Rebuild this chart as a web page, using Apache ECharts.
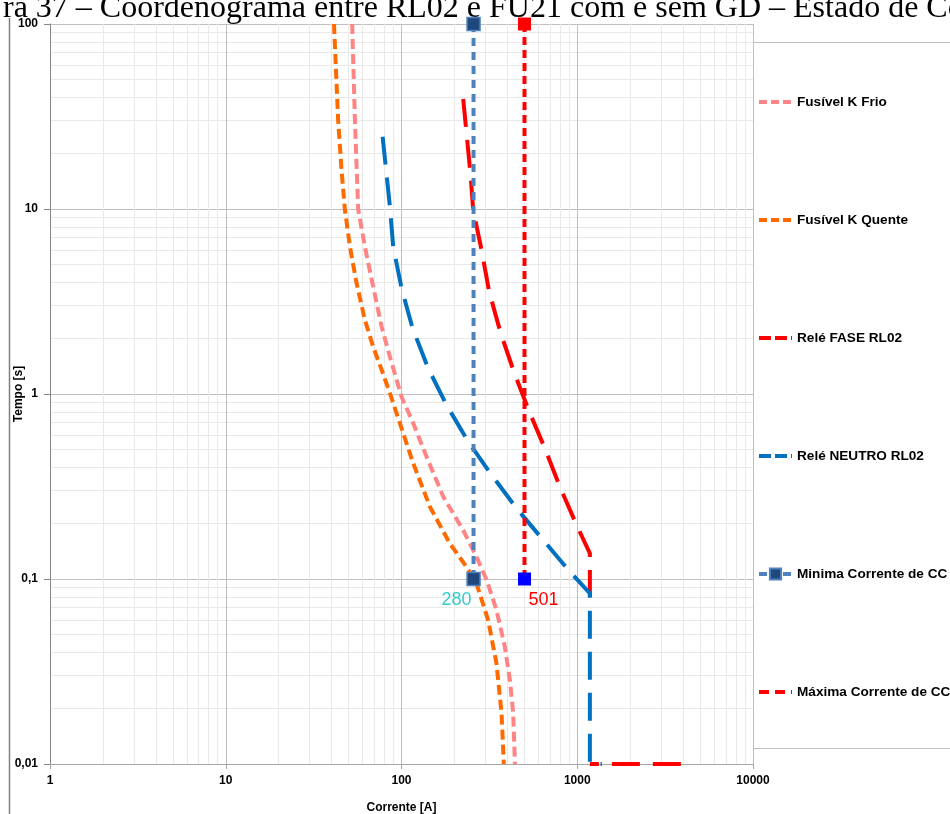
<!DOCTYPE html>
<html><head><meta charset="utf-8">
<script src="https://cdn.jsdelivr.net/npm/echarts@6/dist/echarts.min.js"></script>
<style>html,body{margin:0;padding:0;background:#fff}#c{width:950px;height:814px}</style>
</head><body><div id="c"></div>
<script>
// ---- data (current [A], time [s]) ----
const seriesNames = ['Fusível K Frio','Fusível K Quente','Relé FASE RL02','Relé NEUTRO RL02','Minima Corrente de CC','Máxima Corrente de CC'];
const fusivelFrio = [[52.4,100],[54.3,30.3],[56.7,9.96],[61.9,6.25],[69.0,3.80],[77.1,2.31],[85.9,1.59],[100,0.967],[116.6,0.695],[138.9,0.458],[172.7,0.279],[224,0.184],[267,0.132],[305,0.0988],[347,0.068],[387,0.0431],[414,0.0284],[432,0.0188],[442,0.01]];
const fusivelQuente = [[41.3,100],[43.6,30.3],[45.6,16.2],[47.6,9.96],[50.9,6.25],[55.5,3.98],[61.9,2.51],[69.0,1.80],[77.1,1.35],[85.9,1.01],[97.9,0.695],[116.6,0.422],[145,0.246],[188,0.156],[234,0.1165],[267,0.0948],[311,0.060],[347,0.035],[371,0.0188],[382,0.01]];
const releFase = [[224.4,39.3],[247.2,15.3],[255.8,9.88],[285.5,6.0],[315.4,3.57],[366.2,2.145],[435.9,1.32],[530.5,0.812],[654.1,0.509],[796,0.3155],[990.8,0.196],[1180,0.1377],[1180,0.080]];
const releFaseInst = [[1180,0.01],[4090,0.01]];
const releNeutro = [[78.1,24.6],[85.9,10.3],[89.7,6.25],[100.1,3.73],[115.6,2.27],[141.9,1.376],[180.5,0.872],[239.6,0.553],[325.5,0.365],[451.6,0.241],[639.7,0.1625],[907.7,0.1095],[1180,0.0837],[1180,0.01],[1380,0.01]];
const minCC = [[257,100],[257,0.1]];
const maxCC = [[501,100],[501,0.1]];
const ccLabels = ['280','501'];
const xRange = [1, 10000];
const yRange = [0.01, 100];

const chart = echarts.init(document.getElementById('c'), null, {renderer:'canvas'});
const axisFont = {fontFamily:'Liberation Sans, Arial', fontWeight:'bold', fontSize:12, color:'#000'};
const fmt = v => String(+(+v).toPrecision(6)).replace('.', ',');
const legendItem = (name, color, dash, hideSymbol) => ({
  name,
  itemStyle: hideSymbol ? {opacity:0} : undefined,
  lineStyle: {color, width:4, type:dash}
});
const option = {
  animation:false,
  backgroundColor:'#fff',
  grid:{left:50, right:197, top:24, bottom:50, containLabel:false, outerBoundsMode:'none'},
  xAxis:{type:'log', logBase:10, min:xRange[0], max:xRange[1],
    name:'Corrente [A]', nameLocation:'middle', nameGap:38, nameMoveOverlap:false,
    nameTextStyle:{fontFamily:'Liberation Sans, Arial', fontWeight:'bold', fontSize:12, color:'#000'},
    axisLine:{show:true, lineStyle:{color:'#A6A6A6', width:1}},
    axisTick:{show:true, length:5, lineStyle:{color:'#A6A6A6'}},
    axisLabel:Object.assign({margin:11, formatter:fmt}, axisFont),
    splitLine:{show:true, lineStyle:{color:'#BFBFBF', width:1}},
    minorTick:{show:false, splitNumber:9},
    minorSplitLine:{show:true, lineStyle:{color:'#E9E9E9', width:1}}
  },
  yAxis:{type:'log', logBase:10, min:yRange[0], max:yRange[1],
    name:'Tempo [s]', nameLocation:'middle', nameGap:25, nameRotate:90, nameMoveOverlap:false,
    nameTextStyle:{fontFamily:'Liberation Sans, Arial', fontWeight:'bold', fontSize:12, color:'#000'},
    axisLine:{show:true, lineStyle:{color:'#868686', width:1}},
    axisTick:{show:true, length:6, lineStyle:{color:'#868686'}},
    axisLabel:Object.assign({margin:12, formatter:fmt}, axisFont),
    splitLine:{show:true, lineStyle:{color:'#BFBFBF', width:1}},
    minorTick:{show:false, splitNumber:9},
    minorSplitLine:{show:true, lineStyle:{color:'#E9E9E9', width:1}}
  },
  legend:{orient:'vertical', left:757, top:95, padding:0, itemGap:104, itemWidth:33, itemHeight:14,
    data:[
      legendItem(seriesNames[0], '#FF8585', [8,4], true),
      legendItem(seriesNames[1], '#FF6A00', [8,4], true),
      legendItem(seriesNames[2], '#FF0000', [12,4], true),
      legendItem(seriesNames[3], '#0070C0', [12,4], true),
      legendItem(seriesNames[4], '#4F81BD', [8,4], false),
      legendItem(seriesNames[5], '#FF0000', [10,6], true)
    ],
    textStyle:{fontFamily:'Liberation Sans, Arial', fontWeight:'bold', fontSize:13.6, color:'#000'}},
  series:[
    {name:seriesNames[0], type:'line', data:fusivelFrio, symbol:'none',
     lineStyle:{color:'#FF8585', width:4, type:[10,5]}, itemStyle:{color:'#FF8585'}},
    {name:seriesNames[1], type:'line', data:fusivelQuente, symbol:'none',
     lineStyle:{color:'#FF6A00', width:4, type:[10,5]}, itemStyle:{color:'#FF6A00'}},
    {name:seriesNames[2], type:'line', data:releFase, symbol:'none',
     lineStyle:{color:'#FF0000', width:4, type:[28,13]}, itemStyle:{color:'#FF0000'}},
    {name:seriesNames[2], type:'line', data:releFaseInst, symbol:'none',
     lineStyle:{color:'#FF0000', width:4, type:[28,13], dashOffset:-22}, itemStyle:{color:'#FF0000'}},
    {name:seriesNames[3], type:'line', data:releNeutro, symbol:'none',
     lineStyle:{color:'#0070C0', width:4, type:[28,13]}, itemStyle:{color:'#0070C0'}},
    {name:seriesNames[4], type:'line', symbol:'rect', symbolSize:13,
     data:[{value:minCC[0]},{value:minCC[1], label:{show:true, formatter:ccLabels[0], position:'bottom', distance:5, offset:[-17,0], color:'#33CCCC', fontSize:18, fontFamily:'Liberation Sans, Arial'}}],
     lineStyle:{color:'#4F81BD', width:4, type:[8,6]},
     itemStyle:{color:'#1F497D', borderColor:'#4F81BD', borderWidth:1.5}},
    {name:seriesNames[5], type:'line', symbol:'rect', symbolSize:13,
     data:[{value:maxCC[0]},{value:maxCC[1], itemStyle:{color:'#0000FF'}, label:{show:true, formatter:ccLabels[1], position:'bottom', distance:6, offset:[19,0], color:'#FF0000', fontSize:18, fontFamily:'Liberation Sans, Arial'}}],
     lineStyle:{color:'#FF0000', width:4, type:[8,5]},
     itemStyle:{color:'#FF0000'}}
  ],
  graphic:[
    {type:'text', x:3, y:9, style:{text:'ra 37 – Coordenograma entre RL02 e FU21 com e sem GD – Estado de Co', font:'32px "Liberation Serif", "Times New Roman", serif', fill:'#000', verticalAlign:'middle'}},
    {type:'line', shape:{x1:9.5, y1:18, x2:9.5, y2:814}, style:{stroke:'#808080', lineWidth:1.5}},
    {type:'line', shape:{x1:753, y1:42.5, x2:950, y2:42.5}, style:{stroke:'#BFBFBF', lineWidth:1}},
    {type:'line', shape:{x1:753, y1:748.5, x2:950, y2:748.5}, style:{stroke:'#BFBFBF', lineWidth:1}}
  ]
};
chart.setOption(option);
</script></body></html>
